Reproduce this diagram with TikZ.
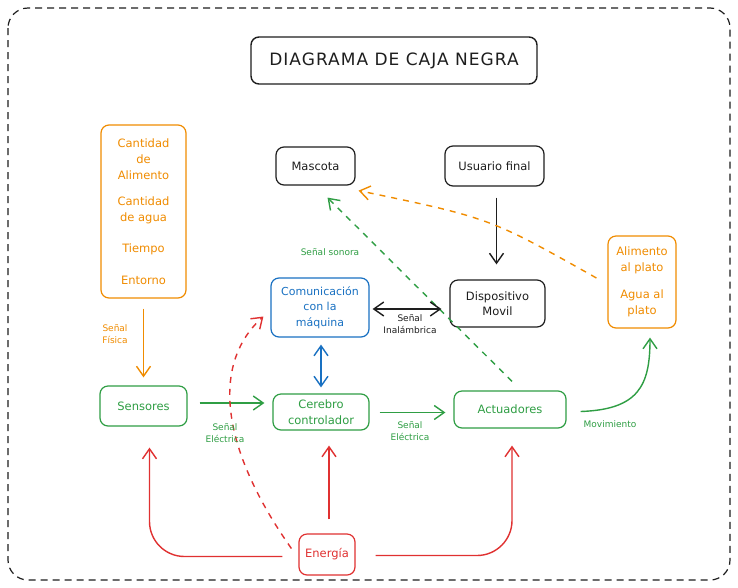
\documentclass[tikz,border=0pt]{standalone}
\usepackage{fontspec}
\setmainfont{DejaVu Sans}
\usetikzlibrary{arrows.meta}
\definecolor{exorange}{HTML}{F08C00}
\definecolor{exgreen}{HTML}{2F9E44}
\definecolor{exred}{HTML}{E03131}
\definecolor{exblue}{HTML}{1971C2}
\definecolor{exblack}{HTML}{1E1E1E}
\tikzset{
  box/.style={draw, line width=1.2pt, rounded corners=8pt, align=center, inner sep=0pt,
    font=\fontsize{11.5}{15.5}\selectfont},
  lbl/.style={align=center, font=\fontsize{9}{12}\selectfont, inner sep=0pt},
  conn/.style={line width=1.4pt, -{Straight Barb[length=10pt,width=14pt,line width=1.4pt]}},
  dconn/.style={line width=1.4pt, {Straight Barb[length=10pt,width=14pt,line width=1.4pt]}-{Straight Barb[length=10pt,width=14pt,line width=1.4pt]}},
  dsh/.style={dash pattern=on 6pt off 6pt},
}
\begin{document}
\begin{tikzpicture}[x=1pt,y=-1pt]
\useasboundingbox (0,0) rectangle (738,587);
\fill[white] (0,0) rectangle (738,587);
\draw[exblack, line width=1.2pt, dash pattern=on 7pt off 5pt, rounded corners=20pt] (8,8) rectangle (730,580);

% title
\node[box, exblack, line width=1.4pt, minimum width=286pt, minimum height=47pt] (title) at (394,60.5)
  {\fontsize{17}{18}\selectfont\addfontfeatures{LetterSpace=6}DIAGRAMA DE CAJA NEGRA};

% nodes
\node[box, exorange, minimum width=85pt, minimum height=173pt, font=\fontsize{11.5}{16}\selectfont] (cant) at (143.5,211.5)
  {Cantidad\\de\\Alimento\\[10pt]Cantidad\\de agua\\[15pt]Tiempo\\[16pt]Entorno};
\node[box, exblack, minimum width=79pt, minimum height=38pt] (mascota) at (315.5,166) {Mascota};
\node[box, exblack, minimum width=99pt, minimum height=40pt] (usuario) at (494.5,166) {Usuario final};
\node[box, exblue, minimum width=98pt, minimum height=59pt, font=\fontsize{11}{15.5}\selectfont] (comm) at (320,307.5) {Comunicación\\con la\\máquina};
\node[box, exblack, minimum width=95pt, minimum height=47pt] (disp) at (497.5,303.5) {Dispositivo\\Movil};
\node[box, exorange, minimum width=68pt, minimum height=92pt] (alim) at (642,282)
  {Alimento\\al plato\\[12pt]Agua al\\plato};
\node[box, exgreen, minimum width=87pt, minimum height=40pt] (sens) at (143.5,406) {Sensores};
\node[box, exgreen, minimum width=96pt, minimum height=36pt] (cereb) at (321,412) {Cerebro\\controlador};
\node[box, exgreen, minimum width=112pt, minimum height=37pt] (act) at (510,409.5) {Actuadores};
\node[box, exred, minimum width=56pt, minimum height=41pt] (energia) at (327,554.5) {Energía};

% connectors
\draw[conn, exorange, shorten <=10pt, shorten >=8pt] (cant.south) -- (sens.north);
\draw[conn, exblack, shorten <=11pt, shorten >=15pt] ([xshift=2]usuario.south) -- ([xshift=2]usuario.south |- disp.north);
\draw[conn, exorange, dsh] ([shift={(-11,-4)}]alim.west) .. controls (490,218) .. ([shift={(3,5)}]mascota.south east);
\draw[conn, exgreen, dsh] ([shift={(2,-9)}]act.north) -- ([shift={(12,12)}]mascota.south);
\draw[dconn, exblack, shorten <=3pt, shorten >=8pt] ([yshift=-1.5]comm.east) -- ([yshift=-1.5]comm.east -| disp.west);
\draw[dconn, exblue, shorten <=7pt, shorten >=6pt] ([xshift=1]comm.south) -- ([xshift=1]comm.south |- cereb.north);
\draw[conn, exgreen, shorten <=12pt, shorten >=8pt] ([yshift=3]sens.east) -- ([yshift=3]sens.east -| cereb.west);
\draw[conn, exgreen, shorten <=10pt, shorten >=8pt] ([yshift=-0.5]cereb.east) -- ([yshift=-0.5]cereb.east -| act.west);
\draw[conn, exgreen] ([shift={(14,2)}]act.east) .. controls +(58,-2) and +(0,48) .. ([shift={(8,9)}]alim.south);
\draw[conn, exred, rounded corners=35pt, shorten <=16pt, shorten >=21pt] ([yshift=-2]energia.west) -| ([xshift=6]sens.south);
\draw[conn, exred, rounded corners=35pt, shorten <=20pt, shorten >=17pt] ([yshift=-1]energia.east) -| ([xshift=2]act.south);
\draw[conn, exred, shorten <=14pt, shorten >=15pt] ([xshift=2]energia.north) -- ([xshift=2]energia.north |- cereb.south);
\draw[conn, exred, dsh] ([shift={(-7,-6)}]energia.west) .. controls (215,440) and (215,360) .. ([shift={(-7,9)}]comm.west);

% labels
\node[lbl, exorange] (l1) at (115,334) {Señal\\Física};
\node[lbl, exgreen] (l2) at (330,252) {Señal sonora};
\node[lbl, exblack] (l3) at (410,324) {Señal\\Inalámbrica};
\node[lbl, exgreen] (l4) at (225,433) {Señal\\Eléctrica};
\node[lbl, exgreen] (l5) at (410,431) {Señal\\Eléctrica};
\node[lbl, exgreen] (l6) at (610,424) {Movimiento};
\end{tikzpicture}
\end{document}
